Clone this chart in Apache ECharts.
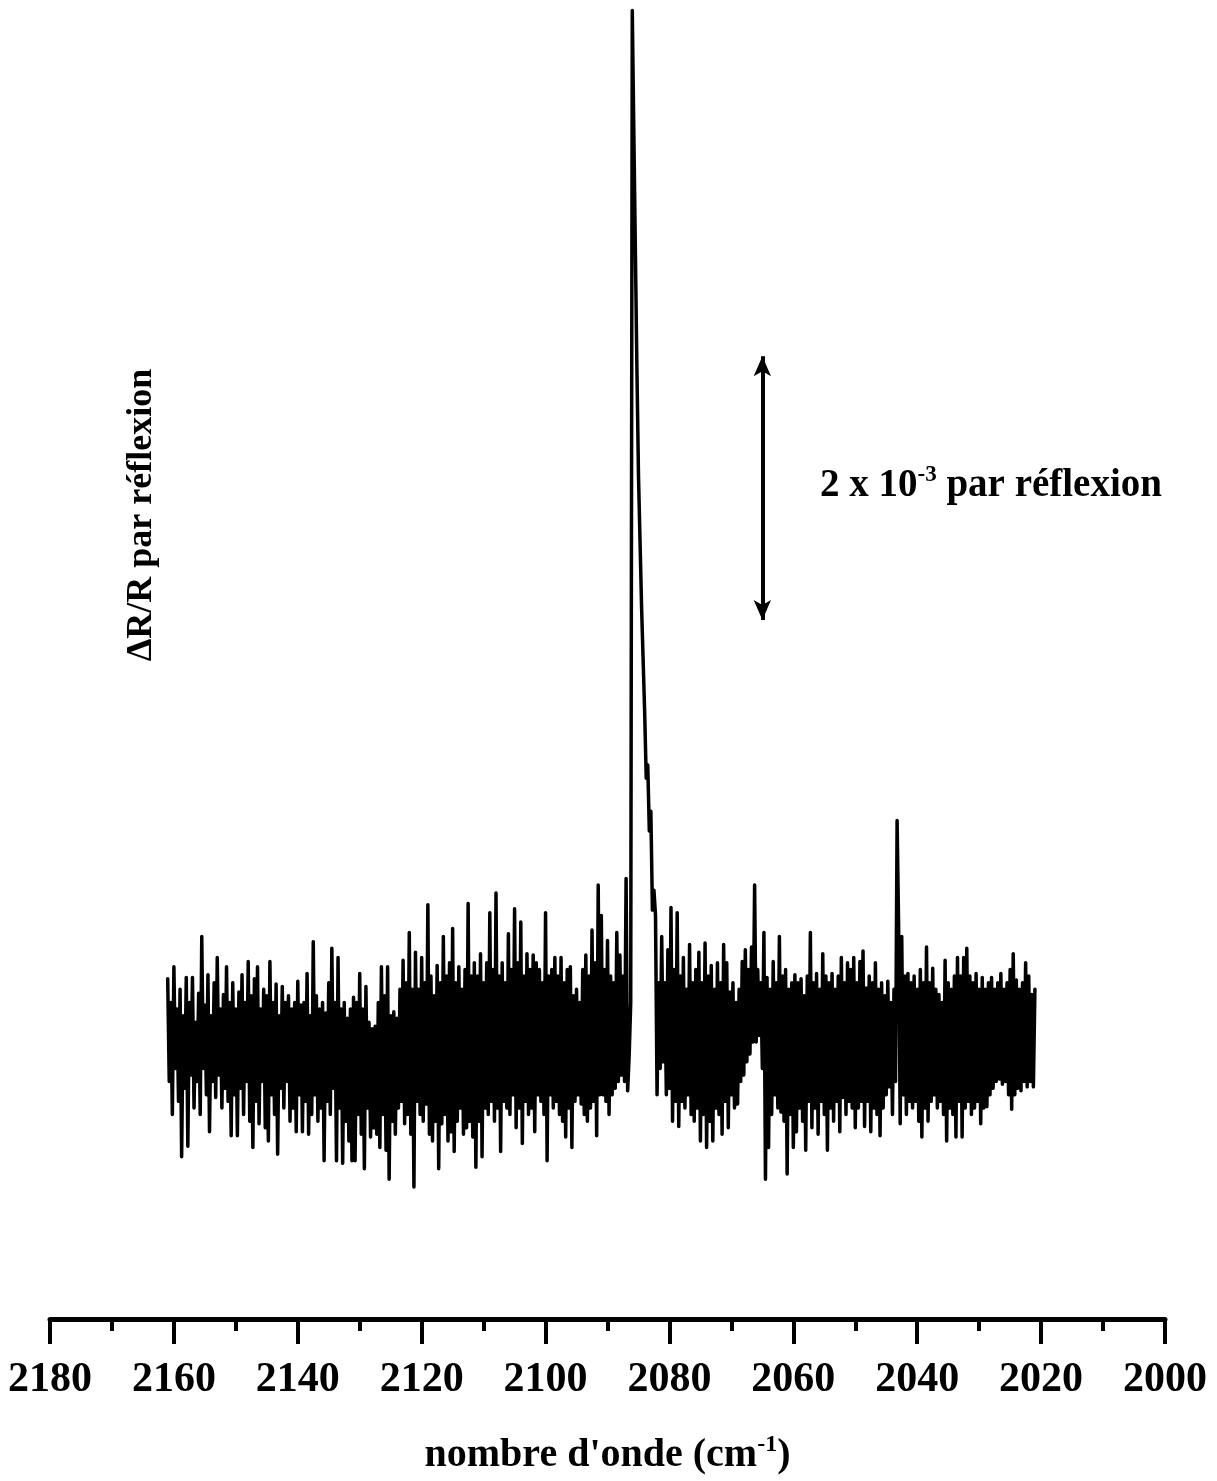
<!DOCTYPE html>
<html>
<head>
<meta charset="utf-8">
<title>ΔR/R par réflexion</title>
<script src="https://cdn.jsdelivr.net/npm/echarts@6/dist/echarts.min.js"></script>
<style>
  html, body { margin: 0; padding: 0; background: #fff; }
  #chart { width: 1217px; height: 1481px; }
</style>
</head>
<body>
<div id="chart"></div>
<script>
// Spectrum sampling: first wavenumber (cm-1) and spacing between points
const wavenumberStart = 2161;
const wavenumberStep = 0.25;

// ΔR/R per reflection, in units of 1e-3, from 2161 down to 2021 cm-1
const deltaR = [
  // 2161 – 2156.25
  0.48, -0.30, 0.30, -0.55, 0.57, -0.20, 0.25, -0.45, 0.40, -0.87, 0.20, -0.35, 0.49, -0.79, 0.30, -0.25, 0.49, -0.50, 0.15, -0.30,
  // 2156 – 2151.25
  0.37, -0.55, 0.80, -0.20, 0.28, -0.40, 0.51, -0.68, 0.20, -0.30, 0.45, -0.42, 0.64, -0.25, 0.25, -0.50, 0.36, -0.35, 0.57, -0.45,
  // 2151 – 2146.25
  0.30, -0.71, 0.45, -0.40, 0.25, -0.71, 0.38, -0.35, 0.51, -0.55, 0.30, -0.30, 0.61, -0.60, 0.35, -0.80, 0.48, -0.45, 0.57, -0.62,
  // 2146 – 2141.25
  0.25, -0.30, 0.40, -0.65, 0.35, -0.75, 0.61, -0.40, 0.30, -0.55, 0.44, -0.85, 0.20, -0.35, 0.42, -0.50, 0.30, -0.30, 0.35, -0.60,
  // 2141 – 2136.25
  0.25, -0.50, 0.30, -0.68, 0.46, -0.40, 0.28, -0.68, 0.30, -0.45, 0.52, -0.70, 0.20, -0.55, 0.76, -0.40, 0.35, -0.60, 0.25, -0.50,
  // 2136 – 2131.25
  0.30, -0.90, 0.22, -0.45, 0.45, -0.55, 0.71, -0.35, 0.30, -0.90, 0.64, -0.50, 0.25, -0.92, 0.30, -0.60, 0.18, -0.75, 0.25, -0.90,
  // 2131 – 2126.25
  0.34, -0.90, 0.30, -0.55, 0.52, -0.70, 0.25, -0.96, 0.42, -0.50, 0.15, -0.72, 0.10, -0.65, 0.12, -0.70, 0.30, -0.80, 0.57, -0.55,
  // 2126 – 2121.25
  0.35, -0.82, 0.57, -1.04, 0.20, -0.60, 0.23, -0.70, 0.18, -0.50, 0.40, -0.45, 0.62, -0.62, 0.45, -0.55, 0.83, -0.70, 0.40, -1.10,
  // 2121 – 2116.25
  0.68, -0.45, 0.40, -0.55, 0.64, -0.60, 0.45, -0.47, 1.04, -0.70, 0.50, -0.75, 0.35, -0.60, 0.58, -0.96, 0.45, -0.62, 0.80, -0.55,
  // 2116 – 2111.25
  0.50, -0.75, 0.60, -0.68, 0.86, -0.83, 0.45, -0.60, 0.57, -0.50, 0.40, -0.70, 0.55, -0.65, 1.05, -0.60, 0.50, -0.72, 0.60, -0.95,
  // 2111 – 2106.25
  0.50, -0.60, 0.67, -0.87, 0.45, -0.50, 0.60, -0.55, 0.98, -0.45, 0.55, -0.60, 1.13, -0.50, 0.50, -0.83, 0.60, -0.45, 0.45, -0.50,
  // 2106 – 2101.25
  0.82, -0.55, 0.55, -0.40, 1.01, -0.65, 0.60, -0.50, 0.91, -0.77, 0.50, -0.45, 0.67, -0.55, 0.55, -0.50, 0.66, -0.68, 0.60, -0.40,
  // 2101 – 2096.25
  0.55, -0.45, 0.45, -0.55, 0.98, -0.90, 0.50, -0.40, 0.55, -0.50, 0.64, -0.45, 0.50, -0.55, 0.64, -0.60, 0.45, -0.72, 0.55, -0.50,
  // 2096 – 2091.25
  0.57, -0.80, 0.35, -0.45, 0.40, -0.40, 0.30, -0.47, 0.55, -0.55, 0.66, -0.60, 0.50, -0.50, 0.85, -0.45, 0.60, -0.71, 1.19, -0.40,
  // 2091 – 2086.25
  0.96, -0.40, 0.55, -0.45, 0.77, -0.55, 0.50, -0.40, 0.45, -0.35, 0.83, -0.30, 0.66, -0.25, 0.50, -0.30, 1.24, -0.37, -0.10, 0.30,
  // 2086 – 2081.25 (main band)
  7.82, 6.90, 6.00, 5.10, 4.30, 3.80, 3.30, 2.90, 2.50, 2.00, 2.10, 1.60, 1.75, 1.00, 1.15, 0.96, -0.40, 0.45, -0.20, 0.80,
  // 2081 – 2076.25
  -0.15, 0.45, -0.40, 0.70, -0.35, 1.02, -0.60, 0.55, -0.45, 0.98, -0.64, 0.50, -0.45, 0.64, -0.50, 0.40, -0.40, 0.74, -0.55, 0.45,
  // 2076 – 2071.25
  -0.60, 0.55, -0.50, 0.68, -0.75, 0.45, -0.55, 0.75, -0.80, 0.50, -0.60, 0.58, -0.75, 0.40, -0.50, 0.60, -0.55, 0.45, -0.70, 0.74,
  // 2071 – 2066.25
  -0.45, 0.60, -0.65, 0.38, -0.40, 0.45, -0.50, 0.30, -0.47, 0.40, -0.30, 0.61, -0.25, 0.70, -0.15, 0.55, -0.09, 0.72, 0.00, 1.19,
  // 2066 – 2061.25
  0.00, 0.55, 0.05, 0.45, -0.20, 0.83, -1.04, 0.49, -0.80, 0.40, -0.55, 0.61, -0.40, 0.45, -0.50, 0.80, -0.53, 0.50, -0.60, 0.55,
  // 2061 – 2056.25
  -1.00, 0.40, -0.55, 0.45, -0.80, 0.51, -0.68, 0.45, -0.50, 0.48, -0.60, 0.35, -0.82, 0.50, -0.45, 0.83, -0.65, 0.45, -0.50, 0.52,
  // 2056 – 2051.25
  -0.70, 0.40, -0.45, 0.67, -0.55, 0.50, -0.82, 0.45, -0.50, 0.52, -0.60, 0.40, -0.45, 0.50, -0.68, 0.64, -0.42, 0.45, -0.55, 0.60,
  // 2051 – 2046.25
  -0.45, 0.55, -0.50, 0.64, -0.65, 0.45, -0.50, 0.61, -0.45, 0.69, -0.64, 0.41, -0.45, 0.50, -0.68, 0.45, -0.50, 0.60, -0.55, 0.40,
  // 2046 – 2041.25 (small band near 2043)
  -0.71, 0.45, -0.50, 0.35, -0.40, 0.46, -0.34, 0.30, -0.55, 0.40, -0.30, 1.68, 0.86, -0.62, 0.80, -0.40, 0.50, -0.55, 0.52, -0.45,
  // 2041 – 2036.25
  0.45, -0.50, 0.50, -0.45, 0.40, -0.60, 0.55, -0.72, 0.45, -0.50, 0.72, -0.60, 0.45, -0.45, 0.56, -0.40, 0.40, -0.50, 0.36, -0.45,
  // 2036 – 2031.25
  0.30, -0.55, 0.62, -0.75, 0.45, -0.50, 0.40, -0.55, 0.50, -0.72, 0.64, -0.45, 0.50, -0.72, 0.64, -0.50, 0.71, -0.45, 0.50, -0.55,
  // 2031 – 2026.25
  0.45, -0.50, 0.52, -0.45, 0.40, -0.62, 0.49, -0.50, 0.40, -0.49, 0.45, -0.40, 0.49, -0.35, 0.40, -0.30, 0.45, -0.28, 0.52, -0.32,
  // 2026 – 2021
  0.40, -0.30, 0.45, -0.40, 0.55, -0.51, 0.67, -0.40, 0.47, -0.35, 0.40, -0.37, 0.45, -0.30, 0.60, -0.34, 0.50, -0.30, 0.36, -0.34, 0.40
];

// Wavenumber axis range and label step (cm-1)
const axisMin = 2000;
const axisMax = 2180;
const axisStep = 20;

// Vertical scale bar: 2 x 1e-3, drawn at this wavenumber
const scaleBarWavenumber = 2065;
const scaleBarValues = [3.2, 5.2];

const serif = '"Liberation Serif", "Times New Roman", serif';

const points = deltaR.map((v, i) => [wavenumberStart - i * wavenumberStep, v]);

const chart = echarts.init(document.getElementById('chart'), null, { renderer: 'canvas' });

chart.setOption({
  animation: false,
  backgroundColor: '#ffffff',
  grid: { left: 50, right: 52, top: 0, bottom: 155, containLabel: false },
  xAxis: {
    type: 'value',
    min: axisMin,
    max: axisMax,
    interval: axisStep,
    inverse: true,
    axisLine: { show: true, onZero: false, lineStyle: { color: '#000', width: 5 } },
    axisTick: { show: true, length: 25, lineStyle: { color: '#000', width: 4 } },
    minorTick: { show: true, splitNumber: 2, length: 12, lineStyle: { color: '#000', width: 4 } },
    splitLine: { show: false },
    minorSplitLine: { show: false },
    axisLabel: {
      color: '#000', fontFamily: serif, fontWeight: 'bold', fontSize: 42, margin: 40,
      formatter: (v) => String(v)
    },
    name: "{t|nombre d'onde (cm}{s|-1}{t|)}",
    nameLocation: 'middle',
    nameGap: 114,
    nameTextStyle: {
      rich: {
        t: { fontFamily: serif, fontWeight: 'bold', fontSize: 40, color: '#000', lineHeight: 46 },
        s: { fontFamily: serif, fontWeight: 'bold', fontSize: 24, color: '#000', lineHeight: 24, verticalAlign: 'top' }
      }
    }
  },
  yAxis: { type: 'value', min: -2.1, max: 7.9, show: false },
  series: [{
    type: 'line',
    data: points,
    symbol: 'none',
    showSymbol: false,
    clip: false,
    lineStyle: { color: '#000', width: 3.5, join: 'round', cap: 'round' },
    markLine: {
      silent: true,
      symbol: ['arrow', 'arrow'],
      symbolSize: [13, 20],
      label: { show: false },
      lineStyle: { color: '#000', width: 4, type: 'solid' },
      data: [[
        { coord: [scaleBarWavenumber, scaleBarValues[0]] },
        { coord: [scaleBarWavenumber, scaleBarValues[1]] }
      ]]
    }
  }],
  graphic: [
    {
      type: 'text',
      x: 142,
      y: 515,
      rotation: Math.PI / 2,
      style: {
        text: 'ΔR/R par réflexion',
        font: 'bold 36px ' + serif,
        fill: '#000',
        align: 'center', verticalAlign: 'middle',
        textAlign: 'center', textVerticalAlign: 'middle'
      }
    },
    {
      type: 'text',
      x: 820,
      y: 486,
      style: {
        text: '{a|2 x 10}{s|-3}{a| par réflexion}',
        fill: '#000',
        align: 'left', verticalAlign: 'middle',
        textAlign: 'left', textVerticalAlign: 'middle',
        rich: {
          a: { font: 'bold 39px ' + serif, fill: '#000', lineHeight: 44 },
          s: { font: 'bold 23px ' + serif, fill: '#000', lineHeight: 23, verticalAlign: 'top' }
        }
      }
    }
  ]
});
</script>
</body>
</html>
